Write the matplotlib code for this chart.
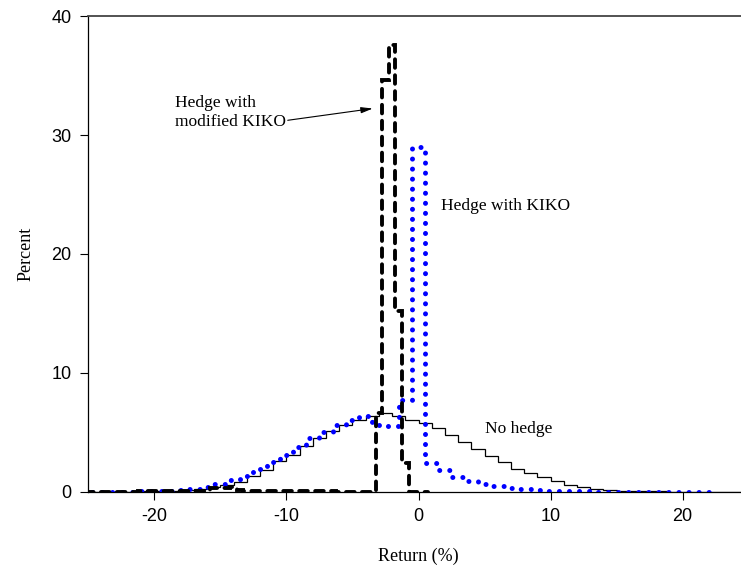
import numpy as np
import matplotlib
matplotlib.use("Agg")
import matplotlib.pyplot as plt

plt.rcParams["axes.unicode_minus"] = False

# ---------------- data (percent per bin) ----------------
# No hedge: bins of width 1, edges at integers from -25 to 25
no_hedge_start, no_hedge_width = -25.0, 1.0
no_hedge = [0.0, 0.0, 0.005, 0.01, 0.02,
            0.03, 0.06, 0.12, 0.22, 0.36, 0.55, 0.85, 1.3, 1.85, 2.55,
            3.12, 3.85, 4.5, 5.08, 5.6, 6.0, 6.35, 6.62, 6.37, 6.03,
            5.75, 5.35, 4.8, 4.22, 3.6, 3.0, 2.48, 1.95, 1.55, 1.2,
            0.88, 0.6, 0.38, 0.24, 0.14, 0.08, 0.05, 0.03, 0.02, 0.01,
            0.01, 0.0, 0.0, 0.0, 0.0]

# Hedge with KIKO: bins of width 1 centred on integers -25 .. 22
kiko_start, kiko_width = -25.5, 1.0
kiko = [0.0, 0.0, 0.01, 0.01, 0.02,
        0.04, 0.07, 0.13, 0.24, 0.42, 0.64, 0.95, 1.32, 1.88, 2.53,
        3.09, 3.79, 4.52, 5.05, 5.61, 6.04, 6.4, 5.65, 5.5, 7.75,
        29.0, 2.44, 1.83, 1.27, 0.93, 0.65, 0.48, 0.3, 0.22, 0.14,
        0.08, 0.05, 0.03, 0.02, 0.01, 0.01, 0.01, 0.0, 0.0, 0.0,
        0.0, 0.0, 0.0]

# Hedge with modified KIKO: bins of width 0.5 centred on -25.0 .. 0.5
mkiko_start, mkiko_width = -25.25, 0.5
mkiko = [0.0, 0.0, 0.0, 0.0, 0.01, 0.01, 0.01, 0.01, 0.02, 0.02,
         0.02, 0.03, 0.03, 0.04, 0.05, 0.06, 0.07, 0.08,
         0.1, 0.28, 0.3, 0.33, 0.4, 0.12, 0.06,
         0.06, 0.05, 0.05, 0.04, 0.04, 0.03, 0.03, 0.03, 0.02, 0.02,
         0.02, 0.02, 0.02, 0.01, 0.01, 0.01, 0.01, 0.01, 0.01,
         6.6, 34.6, 37.6, 15.2, 2.4, 0.0, 0.0, 0.0]

x_ticks = [-20, -10, 0, 10, 20]
y_ticks = [0, 10, 20, 30, 40]
x_label = "Return (%)"
y_label = "Percent"
label_no_hedge = "No hedge"
label_kiko = "Hedge with KIKO"
label_mkiko = "Hedge with\nmodified KIKO"


def edges(start, width, n):
    return start + width * np.arange(n + 1)


# ---------------- figure ----------------
W, H = 741, 575
fig = plt.figure(figsize=(W / 100, H / 100), dpi=100)
ax = fig.add_axes([88.3 / W, 83.3 / H, 660.4 / W, 475.4 / H])

serif = ["Liberation Serif", "DejaVu Serif"]
sans = ["Liberation Sans", "DejaVu Sans"]

ax.stairs(no_hedge, edges(no_hedge_start, no_hedge_width, len(no_hedge)),
          color="black", linewidth=0.9, baseline=None, zorder=3)
ax.stairs(kiko, edges(kiko_start, kiko_width, len(kiko)),
          color="#0000ff", linewidth=3.6, baseline=None, zorder=4,
          linestyle=(0, (0.01, 2.0)), capstyle="round")
ax.stairs(mkiko, edges(mkiko_start, mkiko_width, len(mkiko)),
          color="black", linewidth=2.8, baseline=None, zorder=5,
          linestyle=(0, (2.2, 1.9)), capstyle="round")

ax.set_xlim(-25, 25)
ax.set_ylim(0, 40)
ax.set_xticks(x_ticks)
ax.set_yticks(y_ticks)
ax.tick_params(direction="out", length=5.5, width=0.8, pad=6.5,
               labelsize=13, colors="black")
for lab in ax.get_xticklabels() + ax.get_yticklabels():
    lab.set_fontfamily(sans)

ax.spines["right"].set_visible(False)
ax.spines["left"].set_linewidth(0.9)
ax.spines["bottom"].set_linewidth(0.9)
ax.spines["top"].set_linewidth(1.3)
ax.spines["top"].set_color("#444444")
for s in ("left", "bottom", "top"):
    ax.spines[s].set_zorder(2)

ax.set_xlabel(x_label, fontsize=13, family=serif)
ax.set_ylabel(y_label, fontsize=13, family=serif)
ax.xaxis.set_label_coords(0.5, -0.118)
ax.yaxis.set_label_coords(-0.082, 0.5)

ax.text(1.68, 24.0, label_kiko, fontsize=12.5, family=serif,
        ha="left", va="center")
ax.text(5.02, 5.27, label_no_hedge, fontsize=12.5, family=serif,
        ha="left", va="center")
ax.text(-18.4, 31.93, label_mkiko, fontsize=12.5, family=serif,
        ha="left", va="center", linespacing=1.25)
ax.annotate("", xy=(-3.46, 32.24), xytext=(-9.9, 31.25),
            arrowprops=dict(arrowstyle="-|>,head_length=0.7,head_width=0.18",
                            color="black", lw=0.8, shrinkA=0, shrinkB=0))

fig.savefig("out.png", dpi=100)
